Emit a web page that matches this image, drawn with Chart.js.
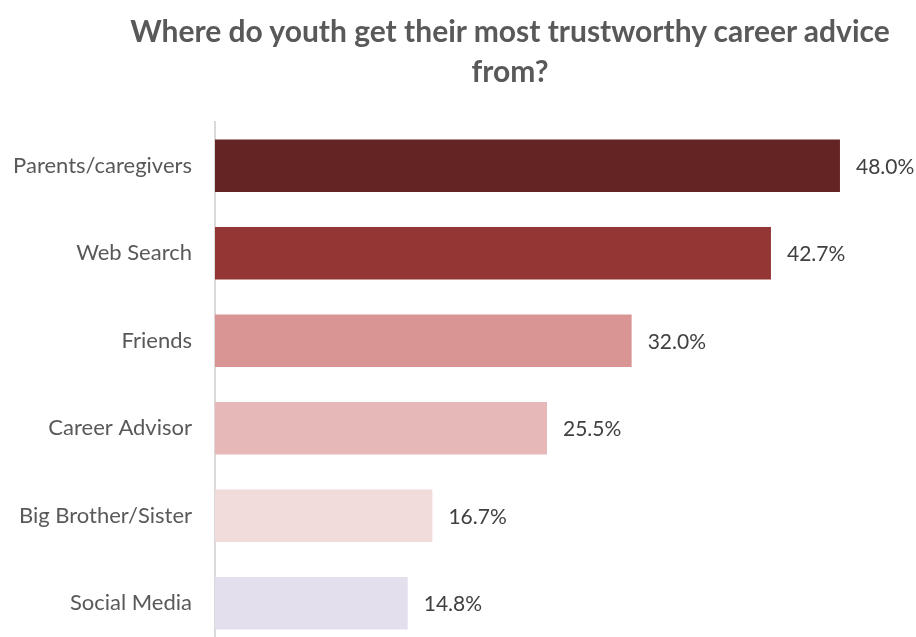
<!DOCTYPE html>
<html>
<head>
<meta charset="utf-8">
<script src="https://cdn.jsdelivr.net/npm/chart.js@4"></script>
<style>
  html, body { margin: 0; padding: 0; background: #fff; overflow: hidden; }
  #wrap { position: relative; width: 916px; height: 650px; }
  #title {
    position: absolute; left: 104px; width: 812px; top: 10px;
    text-align: center; font-family: Lato, sans-serif; font-weight: bold;
    font-size: 30px; line-height: 40px; color: #595959;
  }
</style>
</head>
<body>
<div id="wrap">
  <canvas id="chart" width="916" height="650"></canvas>
  <div id="title">Where do youth get their most trustworthy career advice<br>from?</div>
</div>
<script>
var categories = ['Parents/caregivers', 'Web Search', 'Friends', 'Career Advisor', 'Big Brother/Sister', 'Social Media'];
var shares = [48.0, 42.7, 32.0, 25.5, 16.7, 14.8];
var barColors = ['#642424', '#943634', '#d99594', '#e6b8b7', '#f2dcdb', '#e4dfec'];

// percent labels at the end of each bar
var valueLabels = {
    id: 'valueLabels',
    afterDatasetsDraw: function (chart) {
        var ctx = chart.ctx;
        var meta = chart.getDatasetMeta(0);
        ctx.save();
        ctx.font = '21px Lato, sans-serif';
        ctx.fillStyle = '#404040';
        ctx.textBaseline = 'middle';
        ctx.textAlign = 'left';
        meta.data.forEach(function (bar, i) {
            ctx.fillText(shares[i].toFixed(1) + '%', bar.x + 16, bar.y + 1);
        });
        ctx.restore();
    }
};

new Chart(document.getElementById('chart'), {
    type: 'bar',
    data: {
        labels: categories,
        datasets: [{
            data: shares,
            backgroundColor: barColors,
            borderWidth: 0,
            barPercentage: 0.6,
            categoryPercentage: 1
        }]
    },
    options: {
        indexAxis: 'y',
        responsive: false,
        animation: false,
        layout: { padding: { top: 122, bottom: 3, left: 0, right: 50 } },
        plugins: {
            legend: { display: false },
            tooltip: { enabled: false }
        },
        scales: {
            x: { display: false, min: 0, max: 50 },
            y: {
                afterFit: function (scale) {
                    scale.width = 215;
                    scale.paddingTop = 0;
                    scale.paddingBottom = 0;
                },
                grid: { display: false },
                border: { color: '#d9d9d9', width: 2 },
                ticks: {
                    padding: 15,
                    color: '#595959',
                    font: { family: 'Lato, sans-serif', size: 22 }
                }
            }
        }
    },
    plugins: [valueLabels]
});
</script>
</body>
</html>
